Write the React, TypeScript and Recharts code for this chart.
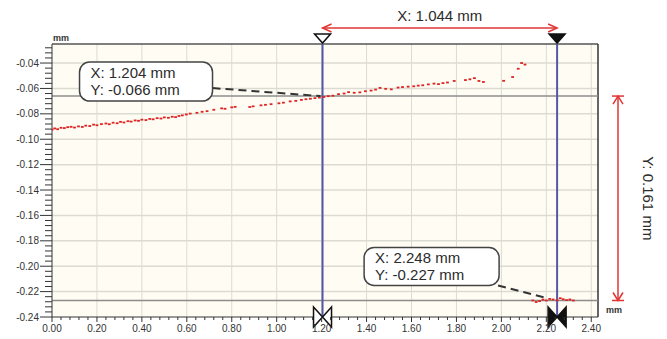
import React from 'react';
import { ScatterChart, Scatter, XAxis, YAxis, CartesianGrid, ReferenceLine, ReferenceDot } from 'recharts';

// axis ticks (mm)
const xMajorTicks = [0, 0.2, 0.4, 0.6, 0.8, 1.0, 1.2, 1.4, 1.6, 1.8, 2.0, 2.2, 2.4];
const yMajorTicks = [-0.24, -0.22, -0.2, -0.18, -0.16, -0.14, -0.12, -0.1, -0.08, -0.06, -0.04];
const xDomain = [0, 2.43];
const yDomain = [-0.24, -0.025];

// upper profile
const profileX = [
  0.0, 0.012, 0.025, 0.04, 0.055, 0.07, 0.085, 0.1, 0.118, 0.135, 0.15, 0.168, 0.185, 0.2, 0.22,
  0.24, 0.255, 0.272, 0.29, 0.305, 0.32, 0.338, 0.352, 0.37, 0.385, 0.4, 0.418, 0.435, 0.45, 0.468,
  0.485, 0.5, 0.518, 0.535, 0.55, 0.565, 0.58, 0.598, 0.615, 0.645, 0.668, 0.69, 0.72, 0.755, 0.77,
  0.8, 0.815, 0.88, 0.895, 0.93, 0.95, 0.975, 1.01, 1.03, 1.06, 1.085, 1.11, 1.13, 1.15, 1.17,
  1.19, 1.21, 1.23, 1.25, 1.275, 1.3, 1.32, 1.345, 1.37, 1.395, 1.42, 1.44, 1.46, 1.485, 1.51,
  1.54, 1.56, 1.585, 1.61, 1.63, 1.65, 1.675, 1.7, 1.72, 1.74, 1.76, 1.79, 1.84, 1.86, 1.88,
  1.9, 1.92, 2.01, 2.05, 2.075, 2.09, 2.105,
];
const profileY = [
  -0.0925, -0.0915, -0.0921, -0.091, -0.0912, -0.0905, -0.0902, -0.0908, -0.0899, -0.0903, -0.0893, -0.0896, -0.0885, -0.089, -0.0881,
  -0.0876, -0.0882, -0.087, -0.0874, -0.0863, -0.0868, -0.0858, -0.0861, -0.0852, -0.0855, -0.0846, -0.0849, -0.084, -0.0843, -0.0834,
  -0.0837, -0.0828, -0.0831, -0.0823, -0.0826, -0.0817, -0.0812, -0.0805, -0.0798, -0.0792, -0.0784, -0.0779, -0.0768, -0.0757, -0.076,
  -0.0749, -0.0745, -0.0746, -0.0741, -0.0733, -0.0729, -0.0724, -0.0717, -0.0712, -0.0702, -0.0698, -0.069, -0.0685, -0.0681, -0.0676,
  -0.0672, -0.0667, -0.0661, -0.0657, -0.0645, -0.064, -0.0629, -0.0634, -0.0631, -0.0622, -0.0617, -0.0609, -0.0596, -0.0603, -0.0607,
  -0.0593, -0.0589, -0.0586, -0.0583, -0.0578, -0.0575, -0.0568, -0.0562, -0.0566, -0.0558, -0.0553, -0.0541, -0.0534, -0.0528, -0.0519,
  -0.0541, -0.0549, -0.054, -0.051, -0.0445, -0.04, -0.0412,
];

// lower edge
const edgeX = [2.14, 2.155, 2.17, 2.185, 2.2, 2.215, 2.23, 2.248, 2.262, 2.275, 2.29, 2.305, 2.32];
const edgeY = [-0.227, -0.2282, -0.2275, -0.2263, -0.227, -0.2258, -0.2262, -0.2268, -0.2252, -0.226, -0.2267, -0.2262, -0.227];

const cursorA = { x: 1.204, y: -0.066 };
const cursorB = { x: 2.248, y: -0.227 };
const dxLabel = 'X: 1.044 mm';
const dyLabel = 'Y: 0.161 mm';

const profile = profileX.map((x, i) => ({ x, y: profileY[i] }));
const edge = edgeX.map((x, i) => ({ x, y: edgeY[i] }));

const subdivide = (major: number[], parts: number, end: number) => {
  const step = (major[1] - major[0]) / parts;
  const out: number[] = [];
  for (let v = major[0]; v <= end + 1e-9; v += step) out.push(Math.round(v * 10000) / 10000);
  return out;
};
const xTicks = subdivide(xMajorTicks, 5, xDomain[1]);
const yTicks = subdivide(yMajorTicks, 5, yDomain[1]);
const isMajor = (list: number[], v: number) => list.some((m) => Math.abs(m - v) < 1e-6);

const font = 'Liberation Sans, Arial, sans-serif';
const ink = '#2b2b2b';
const red = '#e03535';

const XTick = ({ x, y, payload }: any) => {
  const major = isMajor(xMajorTicks, payload.value);
  return (
    <g>
      <line x1={x} x2={x} y1={y} y2={y + (major ? 5 : 3)} stroke="#333" />
      {major && (
        <text x={x} y={y + 14.5} textAnchor="middle" fontSize={10} fill="#333" fontFamily={font}>
          {payload.value.toFixed(2)}
        </text>
      )}
    </g>
  );
};

const YTick = ({ x, y, payload }: any) => {
  const major = isMajor(yMajorTicks, payload.value);
  return (
    <g>
      <line x1={x} x2={x - (major ? 12 : 7)} y1={y} y2={y} stroke="#333" />
      {major && (
        <text x={x - 13} y={y + 3.5} textAnchor="end" fontSize={10} fill="#333" fontFamily={font}>
          {payload.value.toFixed(2)}
        </text>
      )}
    </g>
  );
};

const dot = (fill: string) => (p: any) => (
  <rect x={p.cx - 1.4} y={p.cy - 0.9} width={2.8} height={1.8} fill={fill} />
);

const Callout = ({ cx, cy, lines, box, lead }: any) => (
  <g fontFamily={font} fontSize={15} fill={ink}>
    <line x1={cx + lead[0]} y1={cy + lead[1]} x2={cx + lead[2]} y2={cy + lead[3]} stroke="#333" strokeWidth={2} strokeDasharray="8 5" />
    <rect x={cx + box[0]} y={cy + box[1]} width={box[2]} height={box[3]} rx={10} fill="#fff" stroke="#444" strokeWidth={1.5} />
    <text x={cx + box[0] + 11} y={cy + box[1] + 16}>{lines[0]}</text>
    <text x={cx + box[0] + 11} y={cy + box[1] + 33}>{lines[1]}</text>
  </g>
);

const topMarker = (filled: boolean) => (p: any) => (
  <polygon
    points={`${p.cx - 8},${p.cy - 10} ${p.cx + 8},${p.cy - 10} ${p.cx},${p.cy - 1}`}
    fill={filled ? '#111' : '#fff'}
    stroke="#111"
    strokeWidth={1.5}
  />
);

const bowtie = (filled: boolean) => (p: any) => (
  <g fill={filled ? '#111' : '#fff'} stroke="#111" strokeWidth={1.5}>
    <polygon points={`${p.cx - 9},${p.cy - 10} ${p.cx},${p.cy} ${p.cx - 9},${p.cy + 10}`} />
    <polygon points={`${p.cx + 9},${p.cy - 10} ${p.cx},${p.cy} ${p.cx + 9},${p.cy + 10}`} />
  </g>
);

const HDim = (p: any) => {
  const y = p.y1 - 16;
  return (
    <g>
      <line x1={p.x1} x2={p.x2} y1={y} y2={y} stroke={red} strokeWidth={1.5} />
      <polyline points={`${p.x1 + 9},${y - 4} ${p.x1},${y} ${p.x1 + 9},${y + 4}`} fill="none" stroke={red} strokeWidth={1.5} />
      <polyline points={`${p.x2 - 9},${y - 4} ${p.x2},${y} ${p.x2 - 9},${y + 4}`} fill="none" stroke={red} strokeWidth={1.5} />
      <text x={(p.x1 + p.x2) / 2} y={p.y1 - 23} textAnchor="middle" fontSize={15} fill={ink} fontFamily={font}>
        {dxLabel}
      </text>
    </g>
  );
};

const VDim = (p: any) => {
  const x = p.x1 + 20;
  const mid = (p.y1 + p.y2) / 2;
  return (
    <g>
      <line x1={x} x2={x} y1={p.y1} y2={p.y2} stroke={red} strokeWidth={1.5} />
      <line x1={x - 6} x2={x + 6} y1={p.y1} y2={p.y1} stroke={red} strokeWidth={1.5} />
      <line x1={x - 6} x2={x + 6} y1={p.y2} y2={p.y2} stroke={red} strokeWidth={1.5} />
      <polyline points={`${x - 5},${p.y1 + 8} ${x},${p.y1} ${x + 5},${p.y1 + 8}`} fill="none" stroke={red} strokeWidth={1.5} />
      <polyline points={`${x - 5},${p.y2 - 8} ${x},${p.y2} ${x + 5},${p.y2 - 8}`} fill="none" stroke={red} strokeWidth={1.5} />
      <text x={x + 30} y={mid} transform={`rotate(90 ${x + 30} ${mid})`} textAnchor="middle" dy={5} fontSize={15} fill={ink} fontFamily={font}>
        {dyLabel}
      </text>
    </g>
  );
};

const unitLabel = (dx: number, dy: number) => (p: any) => (
  <text x={p.cx + dx} y={p.cy + dy} fontSize={9} fontWeight="bold" fill="#333" fontFamily={font}>
    mm
  </text>
);

export default function App() {
  return (
    <div style={{ position: 'absolute', left: 0, top: 0, width: 667, height: 339, background: '#fff' }}>
      <ScatterChart width={667} height={339} margin={{ top: 44, right: 69, bottom: 2, left: 0 }}>
        <CartesianGrid horizontal={false} vertical={false} fill="#fffdf3" />
        {xMajorTicks.slice(1).map((v) => (
          <ReferenceLine key={'gx' + v} x={v} stroke="#dcdbd2" strokeWidth={1} />
        ))}
        {yMajorTicks.slice(1).map((v) => (
          <ReferenceLine key={'gy' + v} y={v} stroke="#dcdbd2" strokeWidth={1.5} />
        ))}
        <XAxis
          type="number"
          dataKey="x"
          domain={xDomain}
          ticks={xTicks}
          interval={0}
          allowDataOverflow
          height={20}
          tickSize={0}
          tickMargin={0}
          tickLine={false}
          axisLine={{ stroke: '#333' }}
          tick={(p: any) => <XTick {...p} />}
        />
        <YAxis
          type="number"
          dataKey="y"
          domain={yDomain}
          ticks={yTicks}
          interval={0}
          allowDataOverflow
          width={52}
          tickSize={0}
          tickMargin={0}
          tickLine={false}
          axisLine={{ stroke: '#333' }}
          tick={(p: any) => <YTick {...p} />}
        />
        <ReferenceLine y={yDomain[1]} stroke="#555" strokeWidth={1.5} />
        <ReferenceLine x={xDomain[1]} stroke="#333" strokeWidth={1.5} />
        <ReferenceLine y={cursorA.y} stroke="#8c8c8c" strokeWidth={1.5} />
        <ReferenceLine y={cursorB.y} stroke="#8c8c8c" strokeWidth={1.5} />
        <Scatter data={profile} fill={red} shape={dot('#dd2424')} isAnimationActive={false} />
        <Scatter data={edge} fill={red} shape={dot('#dd2424')} isAnimationActive={false} />
        <ReferenceLine x={cursorA.x} stroke="#5557a6" strokeWidth={2} />
        <ReferenceLine x={cursorB.x} stroke="#5557a6" strokeWidth={2} />
        <ReferenceLine
          segment={[{ x: cursorA.x, y: yDomain[1] }, { x: cursorB.x, y: yDomain[1] }]}
          ifOverflow="visible"
          shape={HDim}
        />
        <ReferenceLine
          segment={[{ x: xDomain[1], y: cursorA.y }, { x: xDomain[1], y: cursorB.y }]}
          ifOverflow="visible"
          shape={VDim}
        />
        <ReferenceDot x={cursorA.x} y={yDomain[1]} r={0} ifOverflow="visible" shape={topMarker(false)} />
        <ReferenceDot x={cursorB.x} y={yDomain[1]} r={0} ifOverflow="visible" shape={topMarker(true)} />
        <ReferenceDot x={cursorA.x} y={yDomain[0]} r={0} ifOverflow="visible" shape={bowtie(false)} />
        <ReferenceDot x={cursorB.x} y={yDomain[0]} r={0} ifOverflow="visible" shape={bowtie(true)} />
        <ReferenceDot
          x={cursorA.x}
          y={cursorA.y}
          r={0}
          ifOverflow="visible"
          shape={(p: any) => (
            <Callout cx={p.cx} cy={p.cy} lines={['X: 1.204 mm', 'Y: -0.066 mm']} box={[-243, -34, 133, 39]} lead={[-110, -8, -2, 0]} />
          )}
        />
        <ReferenceDot
          x={cursorB.x}
          y={cursorB.y}
          r={0}
          ifOverflow="visible"
          shape={(p: any) => (
            <Callout cx={p.cx} cy={p.cy} lines={['X: 2.248 mm', 'Y: -0.227 mm']} box={[-193, -53, 135, 38]} lead={[-59, -15, -9, -2]} />
          )}
        />
        <ReferenceDot x={xDomain[0]} y={yDomain[1]} r={0} ifOverflow="visible" shape={unitLabel(1, -3)} />
        <ReferenceDot x={xDomain[1]} y={yDomain[0]} r={0} ifOverflow="visible" shape={unitLabel(8, -4)} />
      </ScatterChart>
    </div>
  );
}
